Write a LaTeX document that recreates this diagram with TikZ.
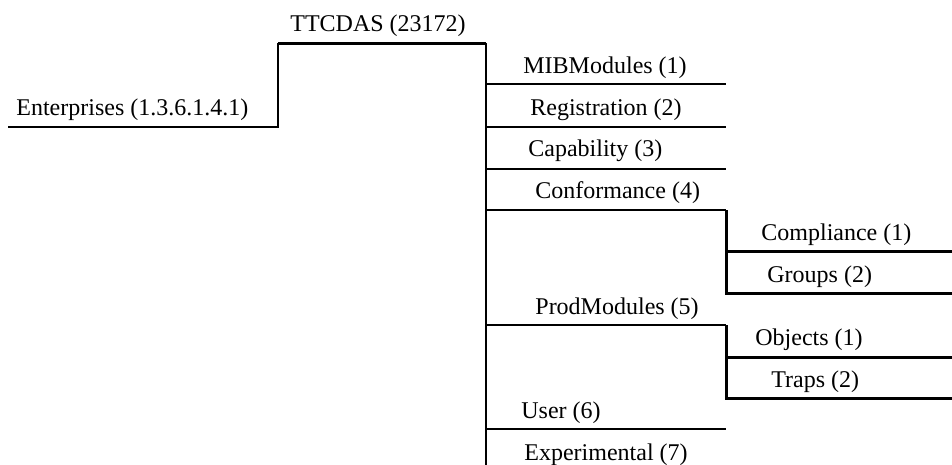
\documentclass[tikz,border=0pt]{standalone}
\usepackage{fontspec}
\setmainfont{Liberation Serif}
\usepackage{tikz}
\usetikzlibrary{calc}
\usetikzlibrary{positioning}
\tikzstyle{lbl} = [draw=none, inner sep = 0, anchor = base west, font = \fontsize{12}{14}\selectfont]
\tikzstyle{br} = [-, line width = 1pt]
\tikzstyle{brmid} = [-, line width = 1.15pt]
\tikzstyle{brthick} = [-, line width = 1.5pt]

\begin{document}
\begin{tikzpicture}[x=.5pt, y=-.5pt]
\useasboundingbox (0,0) rectangle (952,465);
% root and TTCDAS
\coordinate (ent0) at (8,127);
\coordinate (ent1) at (278,127);
\coordinate (tt0) at (278,44);
\coordinate (tt1) at (486,44);
\coordinate (trunk) at (486,466);
\node [lbl] (ent) at (16,115) {Enterprises (1.3.6.1.4.1)};
\node [lbl] (ttcdas) at (290,32) {TTCDAS (23172)};
\draw [brmid] (ent0) -- (ent1) -- (tt0) -- (tt1) -- (trunk);
\draw [brthick] (tt0) -- (tt1);
% first level
\foreach \nm/\y in {mib/84, reg/127, cap/169, conf/210, prod/325, user/429} {
  \coordinate (\nm-a) at (486,\y);
  \coordinate (\nm-b) at (726,\y);
  \draw [br] (\nm-a) -- (\nm-b);
}
\node [lbl] (mibmod) at (523,74) {MIBModules (1)};
\node [lbl] (regist) at (530,115) {Registration (2)};
\node [lbl] (capab) at (528,156) {Capability (3)};
\node [lbl] (conform) at (535,198) {Conformance (4)};
\node [lbl] (prodmod) at (535,314) {ProdModules (5)};
\node [lbl] (user) at (521,418) {User (6)};
\node [lbl] (exper) at (524,460) {Experimental (7)};
% conformance subtree
\coordinate (cmp-a) at (726,251.5);
\coordinate (cmp-b) at (952,251.5);
\coordinate (grp-a) at (726,293.5);
\coordinate (grp-b) at (952,293.5);
\draw [brthick] (conf-b) -- (grp-a) -- (grp-b);
\draw [brthick] (cmp-a) -- (cmp-b);
\node [lbl] (compl) at (761,240) {Compliance (1)};
\node [lbl] (groups) at (767,282) {Groups (2)};
% prodmodules subtree
\coordinate (obj-a) at (726,357.5);
\coordinate (obj-b) at (952,357.5);
\coordinate (trp-a) at (726,398.5);
\coordinate (trp-b) at (952,398.5);
\draw [brthick] (prod-b) -- (trp-a) -- (trp-b);
\draw [brmid] (obj-a) -- (obj-b);
\node [lbl] (objects) at (755,345) {Objects (1)};
\node [lbl] (traps) at (771,387) {Traps (2)};
\end{tikzpicture}
\end{document}
